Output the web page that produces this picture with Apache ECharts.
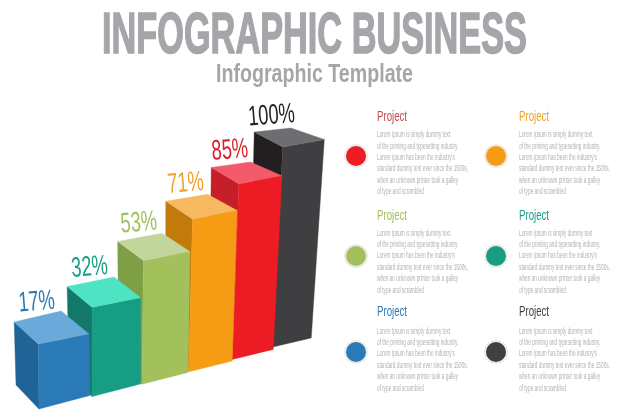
<!DOCTYPE html>
<html><head><meta charset="utf-8">
<style>html,body{margin:0;padding:0;background:#fff}#c{width:626px;height:417px}</style>
<script src="https://cdn.jsdelivr.net/npm/echarts@6/dist/echarts.min.js"></script>
</head><body><div id="c"></div>
<script>
const categories = ['Blue','Teal','Green','Orange','Red','Black'];
const percentValues = [17,32,53,71,85,100];
const percentLabels = ['17%','32%','53%','71%','85%','100%'];
const frontColors = ['#2a7ab8','#189d85','#a2c15c','#f59c14','#ed1c24','#3f3f41'];
const sideColors = ['#1f6397','#12796a','#7e9f45','#c27a0a','#c71f27','#231f20'];
const topColors = ['#6aaada','#4ee3c3','#c2d69b','#f6b95f','#f35b6a','#6c6e72'];
const labelColors = ['#2a7ab8','#189d85','#a2c15c','#f0a030','#d91f2a','#222222'];
const titleText = 'INFOGRAPHIC BUSINESS';
const subtitleText = 'Infographic Template';
const itemTitle = 'Project';
const bodyLines = ['Lorem Ipsum is simply dummy text','of the printing and typesetting industry.','Lorem Ipsum has been the industry\'s','standard dummy text ever since the 1500s,','when an unknown printer took a galley','of type and scrambled'];
const itemColors = ['#ed1c24','#f59c14','#a2c15c','#189d85','#2a7ab8','#3f3f41'];
const itemTitleColors = ['#c8474c','#eea12a','#a2c15c','#189d85','#2a7ab8','#3f3f41'];

const FONT = '"Liberation Sans"';
const AXIS_MIN = -23;
const measure = document.createElement('canvas').getContext('2d');
function widthOf(text,font){measure.font=font;return measure.measureText(text).width;}

function renderBar(params, api){
  const i = api.value(0), v = api.value(1);
  const pt = api.coord([i, v]), pb = api.coord([i, AXIS_MIN]);
  const warp = 1.57*i*i, rise = 12.4*i;
  const h = pb[1]-pt[1];
  const blx = pb[0]-warp, bly = pb[1]-rise;
  const w = 51-2.5*i;
  const leanL = 0.0125*(i-1), leanR = 0.0163*(i-1);
  const fl = [blx+leanL*h, bly-h];
  const fr = [blx+w+leanR*h, bly-h-(10-0.5*i)];
  const br = [blx+w, bly-(13.6-0.9*i)];
  const dx = -24-0.9*i, dy = -22+1.4*i;
  const tl = [fl[0]+dx, fl[1]+dy];
  const trx = 47-(i>1?(i-1)*2.6:0), try_ = -11+1.4*i;
  const tb = [tl[0]+trx, tl[1]+try_];
  const side = [[fl[0],fl[1]],tl,[blx-23,bly-24],[blx,bly]];
  const z = (5-i)*10;
  const poly=(points,fill,zz)=>({type:'polygon',shape:{points},style:{fill,stroke:fill,lineWidth:0.4},z2:zz});
  return {type:'group',children:[
    poly(side,sideColors[i],z),
    poly([fl,fr,br,[blx,bly]],frontColors[i],z+1),
    poly([fl,fr,tb,tl],topColors[i],z+2),
    {type:'text',x:(tl[0]+tb[0])/2-1,y:(tl[1]+tb[1])/2-14,rotation:0.08,scaleX:0.65,z2:200,
      style:{text:percentLabels[i],x:0,y:0,align:'center',verticalAlign:'middle',
        font:'400 28px '+FONT,fill:labelColors[i]}}
  ]};
}

const graphics = [];
function addText(text,x,y,size,fill,weight,targetWidth,align,strokeW){
  const font=weight+' '+size+'px '+FONT;
  const style={text,x:0,y:0,align,verticalAlign:'middle',font,fill};
  if(strokeW){style.stroke=fill;style.lineWidth=strokeW;}
  graphics.push({type:'text',x,y,silent:true,scaleX:targetWidth/widthOf(text,font),style});
}
addText(titleText,314.5,37,57,'#a5a6aa','700',425,'center',1.5);
addText(subtitleText,314.5,75,25,'#a5a6aa','700',197,'center',0);

const colX = [377,519], dotX=[356,496];
const titleY=[117,216,312], dotY=[156,256,352], bodyY=[134.5,233,331];
const bodyFont='400 9.5px '+FONT;
const bodyScale=91/Math.max(...bodyLines.map(t=>widthOf(t,bodyFont)));
itemColors.forEach((c,k)=>{
  const col=k%2,row=(k-col)/2;
  graphics.push({type:'circle',shape:{cx:dotX[col],cy:dotY[row],r:12},style:{fill:'#efebe7'}});
  graphics.push({type:'circle',shape:{cx:dotX[col],cy:dotY[row],r:10},style:{fill:c}});
  addText(itemTitle,colX[col],titleY[row],15,itemTitleColors[k],'400',30,'left',0);
  bodyLines.forEach((t,j)=>addText(t,colX[col],bodyY[row]+j*11.4,9.5,'#b2b2b2','400',bodyScale*widthOf(t,bodyFont),'left',0));
});

const chart = echarts.init(document.getElementById('c'),null,{renderer:'canvas'});
chart.setOption({
  animation:false,
  backgroundColor:'#fff',
  grid:{left:39,width:273,top:209,height:200},
  xAxis:{type:'category',data:categories,boundaryGap:false,show:false},
  yAxis:{type:'value',min:AXIS_MIN,max:100,show:false},
  graphic:{elements:graphics},
  series:[{type:'custom',renderItem:renderBar,clip:false,
    encode:{x:0,y:1},
    data:percentValues.map((v,i)=>[i,v])}]
});
</script></body></html>
